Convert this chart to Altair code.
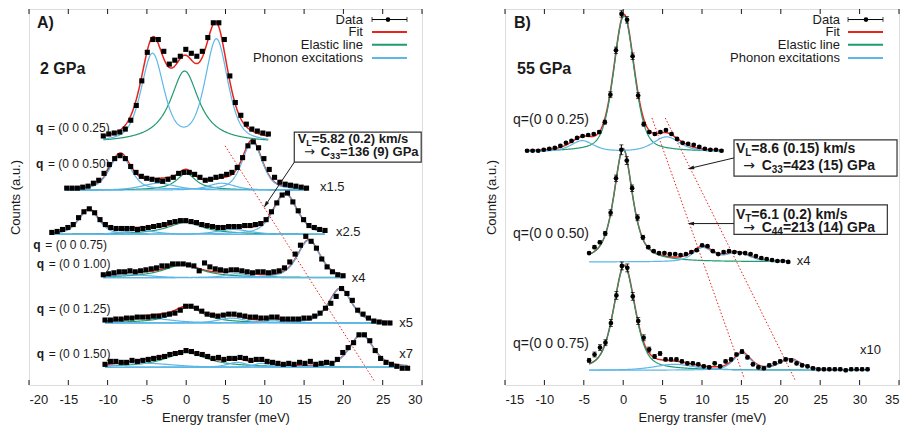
import numpy as np
import pandas as pd
import altair as alt

FONT = "Liberation Sans"
ARROW_FONT = "DejaVu Sans"
INK = "#1a1a1a"
RED = "#e8231b"
GREEN = "#1f9b6f"
BLUE = "#5db7e8"

W_A, W_B, H = 393, 394, 376
X_DOMAIN_A = [-20, 30]
X_DOMAIN_B = [-15, 35]
X_TICKS_A = [-20, -15, -10, -5, 0, 5, 10, 15, 20, 25, 30]
X_TICKS_B = [-15, -10, -5, 0, 5, 10, 15, 20, 25, 30, 35]
Y_DOMAIN = [0, 382]
PX_A = W_A / 50.0
PX_B = W_B / 50.0
PY = H / 382.0

# ---------------- panel A : 2 GPa (counts offset per q, arbitrary units) ----------------
A1_E0, A1_DE, A1_BG = -10.55, 0.70, 246
A1_Y = [253, 255, 256, 257, 260, 269, 284, 309, 338, 351, 351, 339, 326, 330, 334, 341, 337, 334,
        339, 353, 368, 368, 351, 314, 287, 274, 265, 260, 258, 256, 255]
A1_PEAKS = [("E", -0.2, 73, 2.2, 1.0), ("P", -4.3, 89, 1.7, 0.5), ("P", 3.85, 104, 1.7, 0.5)]

A2_E0, A2_DE, A2_BG = -15.2, 0.678, 198
A2_Y = [200, 200, 200, 201, 202, 205, 208, 215, 224, 230, 233, 230, 222, 216, 212, 210, 209, 208,
        207, 209, 211, 215, 216, 216, 214, 211, 208, 209, 211, 212, 214, 216, 221, 231, 243, 247,
        241, 230, 219, 211, 206, 204, 203, 202, 201, 200]
A2_PEAKS = [("P", -8.4, 36, 1.6, 0.5), ("E", 0.0, 17, 1.5, 1.0), ("P", 8.4, 49, 1.5, 0.5),
            ("p", -3.5, 7, 2.5, 0.5), ("p", 4.5, 7, 2.0, 0.5)]

A3_E0, A3_DE, A3_BG = -17.1, 0.6816, 153
A3_Y = [155, 156, 158, 160, 163, 170, 176, 179, 175, 168, 163, 160, 159, 159, 159, 159, 158, 159,
        160, 161, 162, 163, 165, 166, 167, 167, 166, 165, 163, 162, 161, 160, 160, 161, 161, 161,
        162, 162, 163, 164, 168, 176, 185, 193, 195, 186, 177, 168, 162, 160, 158, 157]
A3_PEAKS = [("P", -12.4, 25, 1.5, 0.5), ("E", -0.1, 12, 2.8, 1.0), ("P", 12.6, 41, 1.8, 0.5),
            ("p", -6.0, 4, 2.5, 0.5), ("p", 6.0, 5, 2.5, 0.5)]

A4_E0, A4_DE, A4_BG = -10.55, 0.678, 109
A4_Y = [112, 113, 114, 115, 115, 116, 115, 116, 117, 118, 119, 121, 121, 123, 123, 123, 122, 121,
        116, 124, 120, 118, 117, 116, 117, 117, 116, 115, 114, 115, 115, 114, 115, 116, 119, 125,
        133, 142, 151, 146, 139, 128, 120, 115, 112, 111]
A4_PEAKS = [("E", -0.5, 13, 3.0, 1.0), ("P", 15.6, 38, 1.7, 0.5), ("p", 6.5, 4, 1.8, 0.5),
            ("p", -7.0, 3, 3.0, 0.5)]

A5_E0, A5_DE, A5_BG = -10.33, 0.684, 63
A5_Y = [66, 66, 67, 67, 68, 68, 69, 69, 69, 70, 70, 71, 72, 73, 76, 80, 80, 78, 75, 72, 71, 70,
        71, 72, 72, 71, 70, 69, 69, 68, 68, 69, 69, 67, 67, 67, 67, 68, 68, 70, 73, 78, 83, 90,
        98, 93, 86, 76, 72, 68, 65, 64, 63, 63]
A5_PEAKS = [("E", 0.3, 16, 2.3, 1.0), ("P", 19.6, 35, 1.7, 0.5), ("p", 5.8, 5, 2.0, 0.5),
            ("p", 11.0, 3, 1.2, 0.5), ("p", -5.0, 5, 3.5, 0.5)]

A6_E0, A6_DE, A6_BG = -10.33, 0.6875, 18
A6_Y = [21, 24, 24, 23, 23, 25, 24, 25, 26, 27, 28, 29, 31, 32, 33, 35, 34, 32, 31, 29, 27, 28,
        26, 27, 27, 28, 27, 25, 26, 26, 24, 23, 22, 21, 22, 21, 23, 22, 24, 21, 22, 23, 22, 26,
        33, 38, 43, 51, 51, 45, 35, 27, 23, 21, 19, 17, 17]
A6_PEAKS = [("E", 0.0, 15, 3.2, 1.0), ("P", 22.3, 33, 1.8, 0.5), ("p", 6.5, 5, 1.5, 0.5),
            ("p", 9.6, 4, 1.2, 0.5), ("p", -5.0, 4, 4.0, 0.5)]

# ---------------- panel B : 55 GPa ----------------
B1_E0, B1_DE, B1_BG = -12.2, 0.705, 237
B1_Y = [238, 238, 238, 239, 240, 241, 243, 246, 248, 251, 253, 254, 255, 257, 267, 295, 340, 377,
        371, 334, 294, 265, 257, 255, 257, 259, 255, 250, 246, 245, 244, 242, 240, 239, 239, 238]
B1_ERR = [1, 1, 1, 1, 1, 1, 1, 1, 1, 1, 1, 1, 1, 1.5, 2, 3, 3.3, 3.3, 3.3, 3.3, 3, 2, 1.2, 1.2,
          1.2, 1.2, 1.2, 1.2, 1, 1, 1, 1, 1, 1, 1, 1]
B1_PEAKS = [("E", 0.1, 138, 1.55, 0.4), ("P", -5.2, 11, 1.7, 0.5), ("P", 5.5, 15, 2.0, 0.5)]

B2_E0, B2_DE, B2_BG = -4.33, 0.683, 125
B2_Y = [134, 140, 145, 154, 175, 210, 239, 228, 200, 170, 150, 140, 136, 134, 134, 133, 133, 132,
        133, 135, 137, 142, 141, 136, 133, 135, 136, 135, 134, 134, 133, 131, 129, 128, 127, 126,
        126, 125]
B2_ERR = [1, 1.5, 1.5, 2, 3, 3.3, 5, 4, 3.3, 3, 2, 1.5, 1, 1, 1, 1, 1, 1, 1, 1, 1, 1, 1, 1, 1, 1,
          1, 1, 1, 1, 1, 1, 1, 1, 1, 1, 1, 1]
B2_PEAKS = [("E", 0.0, 115, 1.4, 0.7), ("P", 10.1, 14, 1.5, 0.5), ("P", 14.5, 9, 1.8, 0.5)]

B3_E0, B3_DE, B3_BG = -4.33, 0.693, 15
B3_Y = [25, 31, 38, 43, 63, 91, 121, 119, 90, 65, 48, 36, 29, 32, 26, 26, 26, 24, 22, 22, 21, 19,
        18, 22, 19, 24, 26, 31, 34, 28, 21, 18, 17, 20, 22, 24, 26, 25, 22, 20, 19, 17, 16, 16,
        16, 16, 16, 15, 16, 16, 16, 16]
B3_ERR = [2, 2.5, 3, 3, 3.5, 4, 4, 4, 4, 3.5, 3, 2.5, 2, 2, 1.5, 1.5, 1.5, 1.5, 1.5, 1.5, 1.5,
          1.5, 1.5, 1.5, 1.5, 1.5, 1.5, 1.5, 2, 1.5, 1.5, 1.5, 1.5, 1.5, 1.5, 1.5, 1.5, 1.5, 1.5,
          1.5, 1.5, 1.5, 1.5, 1.5, 1.5, 1.5, 1.5, 1.5, 1.5, 1.5, 1.5, 1.5]
B3_PEAKS = [("E", 0.15, 106, 1.6, 0.5), ("P", 15.1, 17, 1.3, 0.5), ("P", 21.2, 11, 1.6, 0.5),
            ("p", 6.5, 6, 3.0, 0.5)]

# ---------------- annotations ----------------
LEGEND_LABELS = ["Data", "Fit", "Elastic line", "Phonon excitations"]
LEGEND_Y = [371.3, 358.7, 345.7, 332.3]
LEGEND_A = (22.49, 23.64, 28.09, 25.67)
LEGEND_B = (27.51, 28.53, 32.97, 30.81)

TITLES_A = [("A)", -18.98, 368), ("2 GPa", -18.6, 321)]
TITLES_B = [("B)", -13.86, 368), ("55 GPa", -13.48, 321)]

Q_TEXT_A = ["= (0 0 0.25)", "= (0 0 0.50)", "= (0 0 0.75)", "= (0 0 1.00)", "= (0 0 1.25)",
            "= (0 0 1.50)"]
Q_POS_A = [(-19.11, 261), (-19.11, 225), (-19.45, 142), (-19.02, 123), (-19.02, 77), (-19.02, 31)]
Q_TEXT_B = ["q=(0 0 0.25)", "q=(0 0 0.50)", "q=(0 0 0.75)"]
Q_POS_B = [(-13.98, 269.7), (-13.98, 153), (-13.98, 41.3)]

SCALE_A = [("x1.5", 17.02, 201), ("x2.5", 19.06, 155), ("x4", 21.06, 109), ("x5", 27.11, 63),
           ("x7", 27.11, 31)]
SCALE_B = [("x4", 22.02, 125.7), ("x10", 30.05, 35.7)]

BOXES_A = [(13.75, 29.9, 226.5, 257)]
BOXES_B = [(14.06, 34.75, 212.3, 249), (14.06, 33.52, 153, 183)]
BOXTEXT_A = [((14.18, 250), (14.99, 236.5), "L", "=5.82 (0.2) km/s", "33", "=136 (9) GPa")]
BOXTEXT_B = [((14.31, 239.7), (15.24, 223), "L", "=8.6 (0.15) km/s", "33", "=423 (15) GPa"),
             ((14.31, 173), (15.24, 159), "T", "=6.1 (0.2) km/s", "44", "=213 (14) GPa")]
BOX_OFFSETS_A = (8.7, 14.2, 16.7, 26.1, 36.1)
BOX_OFFSETS_B = (9.3, 15.4, 18.4, 28.5, 39.6)

ARROWS_A = [(13.75, 226.3, 10.11, 183)]
ARROWS_B = [(14.06, 230.7, 8.57, 220.3), (14.06, 164, 8.57, 164)]
DOTTED_A = [(4.94, 243, 23.89, 4.7)]
DOTTED_B = [(3.65, 271.3, 15.38, 6.3), (5.34, 271.3, 21.8, 5.3)]

SPECS_A = [("A1", A1_E0, A1_DE, A1_Y, None, A1_BG, A1_PEAKS),
           ("A2", A2_E0, A2_DE, A2_Y, None, A2_BG, A2_PEAKS),
           ("A3", A3_E0, A3_DE, A3_Y, None, A3_BG, A3_PEAKS),
           ("A4", A4_E0, A4_DE, A4_Y, None, A4_BG, A4_PEAKS),
           ("A5", A5_E0, A5_DE, A5_Y, None, A5_BG, A5_PEAKS),
           ("A6", A6_E0, A6_DE, A6_Y, None, A6_BG, A6_PEAKS)]
SPECS_B = [("B1", B1_E0, B1_DE, B1_Y, B1_ERR, B1_BG, B1_PEAKS),
           ("B2", B2_E0, B2_DE, B2_Y, B2_ERR, B2_BG, B2_PEAKS),
           ("B3", B3_E0, B3_DE, B3_Y, B3_ERR, B3_BG, B3_PEAKS)]


def profile(x, c, a, w, eta):
    u = ((x - c) / w) ** 2
    return a * (eta / (1.0 + u) + (1.0 - eta) * np.exp(-np.log(2.0) * u))


def build_frames(specs):
    pts, curves = [], []
    for tag, e0, de, ys, errs, bg, peaks in specs:
        yv = np.asarray(ys, float)
        e = e0 + de * np.arange(len(yv))
        err = np.zeros_like(yv) if errs is None else np.asarray(errs, float)
        pts.append(pd.DataFrame({"E": e, "y": yv, "lo": yv - err, "hi": yv + err}))
        grid = np.linspace(e[0], e[-1], 320)
        comp = {k: np.zeros_like(grid) for k in "EPp"}
        for i, (kind, c, a, w, eta) in enumerate(peaks):
            prof = profile(grid, c, a, w, eta)
            comp[kind] = comp[kind] + prof
            if kind == "p":
                curves.append(pd.DataFrame({"E": grid, "y": bg + prof, "curve": f"{tag}p{i}", "kind": "phonon"}))
        curves.append(pd.DataFrame({"E": grid, "y": bg + comp["P"], "curve": f"{tag}P", "kind": "phonon"}))
        curves.append(pd.DataFrame({"E": grid, "y": bg + comp["E"], "curve": f"{tag}E", "kind": "elastic"}))
        curves.append(pd.DataFrame({"E": grid, "y": bg + comp["E"] + comp["P"] + comp["p"],
                                    "curve": f"{tag}F", "kind": "fit"}))
    return pd.concat(pts, ignore_index=True), pd.concat(curves, ignore_index=True)


def make_panel(specs, xdom, ticks, width, px, marker, titles, qbold, qtext, qsize, scale_lbls,
               legend, boxes, boxtext, box_off, box_fs, sub_fs, arrows, dotted):
    pts, curves = build_frames(specs)
    xs = alt.Scale(domain=xdom, nice=False, zero=False)
    ysc = alt.Scale(domain=Y_DOMAIN, nice=False, zero=False)
    xaxis = alt.Axis(values=ticks, ticks=False, domain=False, grid=False, labelFont=FONT,
                     labelFontSize=13, labelColor=INK, labelPadding=8,
                     labelExpr="'' + datum.value", title="Energy transfer (meV)", titleFont=FONT,
                     titleFontSize=13, titleFontWeight="normal", titleColor=INK, titlePadding=5)
    yaxis = alt.Axis(labels=False, ticks=False, domain=False, grid=False, title="Counts (a.u.)",
                     titleFont=FONT, titleFontSize=13, titleFontWeight="normal", titleColor=INK,
                     titlePadding=7)

    def X(f):
        return alt.X(f, type="quantitative", scale=xs, axis=xaxis)

    def Y(f):
        return alt.Y(f, type="quantitative", scale=ysc, axis=yaxis)

    n = len(ticks)
    tick_df = pd.DataFrame({"t": ticks * 2,
                            "y0": [0.0] * n + [382 - 5 / PY] * n,
                            "y1": [5 / PY] * n + [382.0] * n})
    layers = [alt.Chart(tick_df).mark_rule(color=INK, strokeWidth=1).encode(
        x=X("t"), y=Y("y0"), y2="y1:Q")]

    dot_df = pd.DataFrame(dotted, columns=["x", "y", "x2", "y2"])
    layers.append(alt.Chart(dot_df).mark_rule(color=RED, strokeWidth=1, strokeDash=[1.5, 2]).encode(
        x=X("x"), y=Y("y"), x2="x2:Q", y2="y2:Q"))

    for kind, col, sw in [("fit", RED, 1.5), ("elastic", GREEN, 1.2), ("phonon", BLUE, 1.2)]:
        layers.append(alt.Chart(curves[curves.kind == kind]).mark_line(color=col, strokeWidth=sw).encode(
            x=X("E"), y=Y("y"), detail="curve:N"))

    if marker == "circle":
        layers.append(alt.Chart(pts).mark_rule(color="black", strokeWidth=1).encode(
            x=X("E"), y=Y("lo"), y2="hi:Q"))
        for f in ["lo", "hi"]:
            layers.append(alt.Chart(pts).mark_tick(orient="horizontal", size=4, thickness=1,
                                                   color="black").encode(x=X("E"), y=Y(f)))
    layers.append(alt.Chart(pts).mark_point(shape=marker, filled=True,
                                            size=26 if marker == "square" else 22,
                                            color="black", opacity=1).encode(x=X("E"), y=Y("y")))

    box_df = pd.DataFrame(boxes, columns=["x", "x2", "y", "y2"])
    layers.append(alt.Chart(box_df).mark_rect(fill="white", stroke="#333333", strokeWidth=1.2).encode(
        x=X("x"), x2="x2:Q", y=Y("y"), y2="y2:Q"))
    arr_df = pd.DataFrame(arrows, columns=["x", "y", "x2", "y2"])
    arr_df["ang"] = (np.degrees(np.arctan2((arr_df.x2 - arr_df.x) * px,
                                           (arr_df.y2 - arr_df.y) * PY)) + 360) % 360
    layers.append(alt.Chart(arr_df).mark_rule(color=INK, strokeWidth=1).encode(
        x=X("x"), y=Y("y"), x2="x2:Q", y2="y2:Q"))
    layers.append(alt.Chart(arr_df).mark_point(shape="M0,-1L0.55,1L-0.55,1Z", filled=True, size=45,
                                               color=INK, opacity=1).encode(
        x=X("x2"), y=Y("y2"), angle=alt.Angle("ang:Q", scale=None)))

    lx_text, lx1, lx2, ldot = legend
    leg_df = pd.DataFrame({"x": [lx1] * 4, "x2": [lx2] * 4, "y": LEGEND_Y,
                           "col": ["black", RED, GREEN, BLUE], "w": [1, 2, 2, 2]})
    layers.append(alt.Chart(leg_df).mark_rule().encode(
        x=X("x"), x2="x2:Q", y=Y("y"), color=alt.Color("col:N", scale=None),
        strokeWidth=alt.StrokeWidth("w:Q", scale=None)))
    cap_df = pd.DataFrame({"x": [lx1, lx2], "y": [LEGEND_Y[0]] * 2})
    layers.append(alt.Chart(cap_df).mark_tick(orient="vertical", size=5, thickness=1,
                                              color="black").encode(x=X("x"), y=Y("y")))
    layers.append(alt.Chart(pd.DataFrame({"x": [ldot], "y": [LEGEND_Y[0]]})).mark_circle(
        size=22, color="black", opacity=1).encode(x=X("x"), y=Y("y")))

    bold, normal, arrow_t = [], [], []
    for t, e, y in titles:
        bold.append(dict(E=e, y=y, text=t, size=16))
    if qbold:
        for (e, y), t in zip(Q_POS_A, qtext):
            bold.append(dict(E=e, y=y, text="q", size=qsize))
            normal.append(dict(E=e + 12 / px, y=y, text=t, size=qsize))
    else:
        for (e, y), t in zip(Q_POS_B, qtext):
            normal.append(dict(E=e, y=y, text=t, size=qsize))
    for t, e, y in scale_lbls:
        normal.append(dict(E=e, y=y, text=t, size=13))
    dy = 4 / PY
    for (a1, a2, vs, l1, cs, l2) in boxtext:
        e1, y1 = a1
        e2, y2 = a2
        bold += [dict(E=e1, y=y1, text="V", size=box_fs),
                 dict(E=e1 + box_off[0] / px, y=y1 - dy, text=vs, size=sub_fs),
                 dict(E=e1 + box_off[1] / px, y=y1, text=l1, size=box_fs),
                 dict(E=e2 + box_off[2] / px, y=y2, text="C", size=box_fs),
                 dict(E=e2 + box_off[3] / px, y=y2 - dy, text=cs, size=sub_fs),
                 dict(E=e2 + box_off[4] / px, y=y2, text=l2, size=box_fs)]
        arrow_t.append(dict(E=e2, y=y2, text="\u2192", size=box_fs))
    legend_t = [dict(E=lx_text, y=y, text=t, size=13) for t, y in zip(LEGEND_LABELS, LEGEND_Y)]

    for rows, weight, align, font in [(bold, "bold", "left", FONT), (normal, "normal", "left", FONT),
                                      (arrow_t, "normal", "left", ARROW_FONT),
                                      (legend_t, "normal", "right", FONT)]:
        layers.append(alt.Chart(pd.DataFrame(rows)).mark_text(
            font=font, fontWeight=weight, align=align, baseline="middle", color=INK).encode(
            x=X("E"), y=Y("y"), text="text:N", size=alt.Size("size:Q", scale=None)))

    return alt.layer(*layers).properties(width=width, height=H)


left = make_panel(SPECS_A, X_DOMAIN_A, X_TICKS_A, W_A, PX_A, "square", TITLES_A, True, Q_TEXT_A, 12,
                  SCALE_A, LEGEND_A, BOXES_A, BOXTEXT_A, BOX_OFFSETS_A, 13, 9, ARROWS_A, DOTTED_A)
right = make_panel(SPECS_B, X_DOMAIN_B, X_TICKS_B, W_B, PX_B, "circle", TITLES_B, False, Q_TEXT_B, 14,
                   SCALE_B, LEGEND_B, BOXES_B, BOXTEXT_B, BOX_OFFSETS_B, 14, 10, ARROWS_B, DOTTED_B)

chart = alt.hconcat(left, right, spacing=83, bounds="flush").properties(
    padding={"left": 0, "right": 0, "top": 0, "bottom": 0}
).configure_view(stroke=INK, strokeWidth=1.5).configure(background="white")

chart.save("out.html", embed_options={"renderer": "svg", "actions": False})
